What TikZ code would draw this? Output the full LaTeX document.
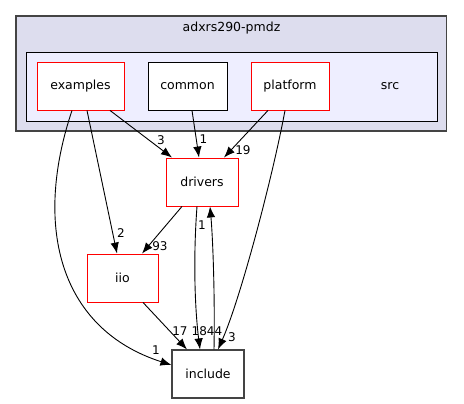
\documentclass[tikz,border=0pt]{standalone}
\usepackage{fontspec}
\setmainfont{DejaVu Sans}
\usetikzlibrary{arrows.meta}
\definecolor{outerfill}{HTML}{DDDDEE}
\definecolor{innerfill}{HTML}{EEEEFF}
\definecolor{boxgray}{HTML}{444444}
\begin{document}
\begin{tikzpicture}[x=1pt,y=-1pt,
	dirbox/.style={draw=red,fill=white,line width=0.9pt,minimum height=48pt,inner sep=0pt,font=\fontsize{12.5}{14}\selectfont},
	plainbox/.style={dirbox,draw=black},
	dep/.style={-{Latex[length=11pt,width=8.5pt]},line width=0.9pt},
	num/.style={font=\fontsize{12}{14}\selectfont,inner sep=0pt}]
		\useasboundingbox (0,0) rectangle (464,404);
		\draw[boxgray,fill=outerfill,line width=1.2pt] (16,16) rectangle (446.5,131);
		\node (pmdz) at (231.5,28) {\fontsize{12.5}{14}\selectfont adxrs290-pmdz};
		\draw[black,fill=innerfill,line width=0.9pt] (26.5,52) rectangle (437,121);
		\node (src) at (390,86) {\fontsize{12.5}{14}\selectfont src};
		
		\node[dirbox,minimum width=87pt] (examples) at (80.5,86) {examples};
		\node[plainbox,minimum width=79pt] (common) at (187.5,86) {common};
		\node[dirbox,minimum width=78pt] (platform) at (290,86) {platform};
		\node[dirbox,minimum width=72pt] (drivers) at (202,182) {drivers};
		\node[dirbox,minimum width=71pt] (iio) at (122.5,278) {iio};
		\node[plainbox,draw=boxgray,line width=1.1pt,minimum width=72pt] (include) at (208,374) {include};
		
		\draw[dep] ([xshift=29.5pt]examples.south) -- ([xshift=-30pt]drivers.north);
		\node[num] (l1) at (161,140) {3};
		\draw[dep] ([xshift=4.5pt]common.south) -- ([xshift=-3pt]drivers.north);
		\node[num] (l2) at (203.5,139) {1};
		\draw[dep] ([xshift=-22pt]platform.south) -- ([xshift=22pt]drivers.north);
		\node[num] (l3) at (243,150) {19};
		\draw[dep] ([xshift=6.5pt]examples.south) -- ([xshift=-5.5pt]iio.north);
		\node[num] (l4) at (121,233) {2};
		\draw[dep] ([xshift=-20pt]drivers.south) -- ([xshift=19.5pt]iio.north);
		\node[num] (l5) at (160,246) {93};
		\draw[dep] ([xshift=-8.5pt]examples.south) .. controls (32,230) and (62,330) .. ([yshift=9pt]include.west);
		\node[num] (l6) at (156,350) {1};
		\draw[dep] ([xshift=20.5pt]iio.south) -- ([xshift=-21pt]include.north);
		\node[num] (l7) at (180,331) {17};
		\draw[dep] ([xshift=-5pt]drivers.south) .. controls (193,260) and (195,310) .. ([xshift=-8pt]include.north);
		\node[num] (l8) at (207,331) {1844};
		\draw[dep] ([xshift=6pt]include.north) .. controls (215,300) and (213,240) .. ([xshift=8pt]drivers.south);
		\node[num] (l9) at (202,225) {1};
		\draw[dep] ([xshift=-5pt]platform.south) .. controls (272,180) and (240,300) .. ([xshift=10pt]include.north);
		\node[num] (l10) at (232,337) {3};
		\end{tikzpicture}
\end{document}
